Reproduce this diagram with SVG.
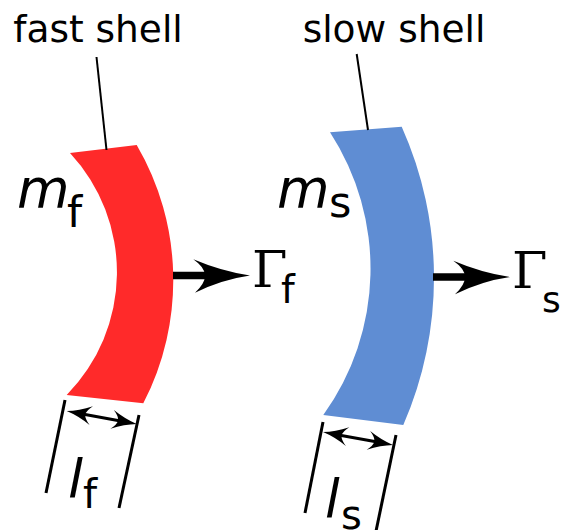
<svg xmlns="http://www.w3.org/2000/svg" width="562" height="530" viewBox="0 0 562 530">
<style>
.lbl{font-family:"DejaVu Sans",sans-serif;fill:#000}
.it{font-family:"DejaVu Sans",sans-serif;font-style:italic;fill:#000}
.gam{font-family:"DejaVu Serif",serif;fill:#000}
.thin{stroke:#000;stroke-width:2;fill:none}
.dim{stroke:#000;stroke-width:3;fill:none;stroke-linecap:butt}
.shaft{stroke:#000;stroke-width:7.5;fill:none}
</style>
<defs>
<path id="bighead" d="M0,0 Q-28,-4 -56.7,-16.2 Q-45,-8 -45,0 Q-45,8 -55,17.2 Q-28,4 0,0 Z" fill="#000"/>
<path id="smallhead" d="M0,0 Q-12,-2.5 -25,-9.5 Q-19,-4 -19,0 Q-19,4 -25,9.5 Q-12,2.5 0,0 Z" fill="#000"/>
</defs>
<rect width="562" height="530" fill="#fff"/>
<g id="fast-shell">
<path d="M70,153 L136.7,145 A268 268 0 0 1 143.3,403.3 L66.7,395 A175 175 0 0 0 70,153 Z" fill="#ff2a2a"/>
<text class="lbl" x="98" y="42" font-size="37.5" text-anchor="middle">fast shell</text>
<text class="it" x="17" y="207" font-size="54">m</text>
<text class="lbl" x="67" y="227" font-size="43">f</text>
</g>
<g id="slow-shell">
<path d="M330,132.3 L401.7,126.7 A369 369 0 0 1 403.3,425 L323.3,415 A250 250 0 0 0 330,132.3 Z" fill="#5f8dd3"/>
<text class="lbl" x="394" y="42" font-size="37.5" text-anchor="middle">slow shell</text>
<text class="it" x="277" y="207" font-size="54">m</text>
<text class="lbl" x="329" y="217" font-size="43">s</text>
</g>
<g id="gamma-f">
<text class="gam" x="252" y="287" font-size="51">Γ</text>
<text class="lbl" x="281" y="303" font-size="39">f</text>
</g>
<g id="gamma-s">
<text class="gam" x="512" y="288" font-size="51">Γ</text>
<text class="lbl" x="542" y="312" font-size="36">s</text>
</g>
<g id="len-f">
<text class="it" x="68" y="498" font-size="54">l</text>
<text class="lbl" x="83" y="508" font-size="40">f</text>
</g>
<g id="len-s">
<text class="it" x="325" y="518" font-size="53">l</text>
<text class="lbl" x="341" y="529" font-size="40">s</text>
</g>
<g id="connectors">
<line class="thin" x1="96.5" y1="57" x2="106.5" y2="150"/>
<line class="thin" x1="356.7" y1="54" x2="368" y2="130"/>
<line class="shaft" x1="173" y1="275.5" x2="212" y2="275.5"/>
<use href="#bighead" transform="translate(250,275.5)"/>
<line class="shaft" x1="433" y1="277" x2="472" y2="277"/>
<use href="#bighead" transform="translate(510,277)"/>
<line class="dim" x1="65" y1="400" x2="46" y2="493"/>
<line class="dim" x1="139" y1="415" x2="119" y2="508"/>
<line class="dim" x1="77" y1="413" x2="126" y2="422"/>
<use href="#smallhead" transform="translate(66.7,411) rotate(190.5)"/>
<use href="#smallhead" transform="translate(136.7,424) rotate(10.5)"/>
<line class="dim" x1="323" y1="422" x2="305" y2="513"/>
<line class="dim" x1="396" y1="435" x2="375" y2="536"/>
<line class="dim" x1="333" y1="434" x2="383" y2="443"/>
<use href="#smallhead" transform="translate(323,432) rotate(190.5)"/>
<use href="#smallhead" transform="translate(393,445) rotate(10.5)"/>
</g>
</svg>
